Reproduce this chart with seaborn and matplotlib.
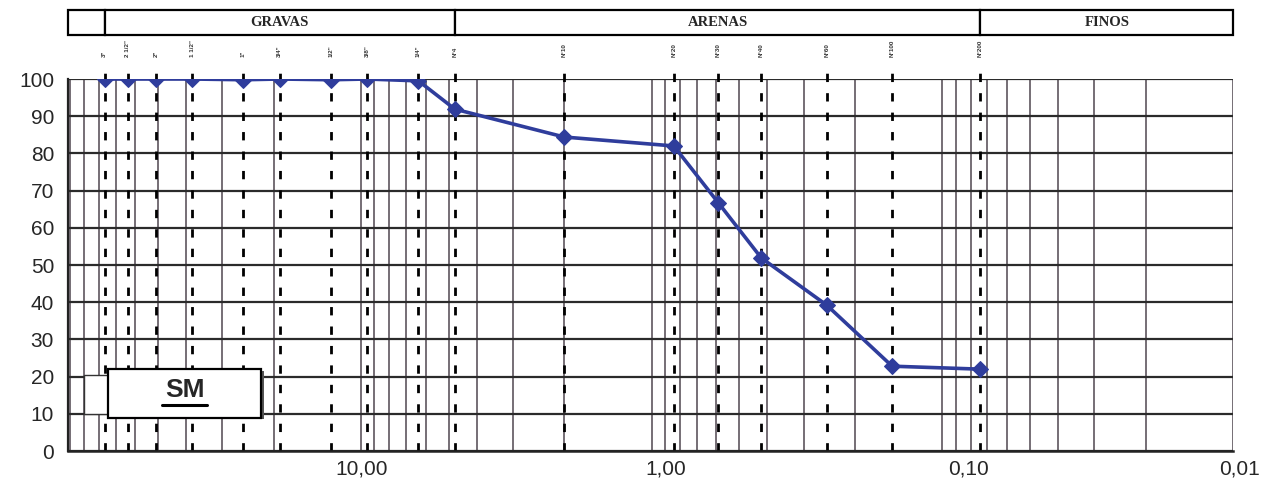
import matplotlib
matplotlib.use("Agg")
import matplotlib.pyplot as plt
import matplotlib.transforms as mtransforms
from matplotlib.patches import Rectangle
from matplotlib.ticker import LogLocator, FixedLocator, NullFormatter
import seaborn as sns
import pandas as pd
import numpy as np

# sieve openings (mm) and % passing
sieve_names = ['3"', '2 1/2"', '2"', '1 1/2"', '1"', '3/4"', '1/2"', '3/8"', '1/4"',
               'N°4', 'N°10', 'N°20', 'N°30', 'N°40', 'N°60', 'N°100', 'N°200']
sieve_mm = [76.2, 63.5, 50.8, 38.1, 25.4, 19.05, 12.7, 9.525, 6.35,
            4.76, 2.0, 0.84, 0.59, 0.42, 0.25, 0.149, 0.074]
passing = [100, 100, 100, 100, 99.8, 100, 99.8, 100, 99.5,
           91.9, 84.4, 82.0, 66.7, 51.9, 39.2, 22.8, 22.0]

# soil fraction bands in header row
zone_names = ['', 'GRAVAS', 'ARENAS', 'FINOS']
zone_edges = [102, 76.2, 4.76, 0.074, 0.01]

x_ticks = [10, 1, 0.1, 0.01]
x_ticklabels = ['10,00', '1,00', '0,10', '0,01']
soil_class = 'SM'

df = pd.DataFrame({'abertura': sieve_mm, 'pasa': passing})

sns.set_style('white')
plt.rcParams['font.family'] = ['Liberation Sans', 'DejaVu Sans']

fig = plt.figure(figsize=(12.66, 5.01), dpi=100)
ax = fig.add_axes([0.0537, 0.0998, 0.9203, 0.7425])

ax.set_xscale('log')
ax.set_xlim(zone_edges[0], zone_edges[-1])
ax.set_ylim(0, 100)

# grid: log minor lines + horizontal every 10
ax.xaxis.set_major_locator(FixedLocator(x_ticks))
ax.xaxis.set_minor_locator(LogLocator(base=10, subs=np.arange(1, 10), numticks=20))
ax.xaxis.set_minor_formatter(NullFormatter())
ax.set_xticklabels(x_ticklabels)
ax.grid(True, which='both', axis='x', color='#4f4650', linewidth=1.1)
ax.set_yticks(range(0, 101, 10))
ax.grid(True, which='major', axis='y', color='#2b2b2b', linewidth=1.6)
ax.tick_params(axis='x', which='both', length=0, labelsize=15, pad=6)
ax.tick_params(axis='y', length=7, width=1.2, color='#222222', labelsize=15, pad=3)

# the original labels sit a little to the right of their grid lines
for lab, dx in zip(ax.get_xticklabels(), [0, 14, 26, 6]):
    lab.set_transform(lab.get_transform() + mtransforms.ScaledTranslation(dx / 100, 0, fig.dpi_scale_trans))

for side in ['top', 'right']:
    ax.spines[side].set_visible(False)
ax.spines['left'].set_color('#222222')
ax.spines['left'].set_linewidth(1.6)
ax.spines['bottom'].set_color('#222222')
ax.spines['bottom'].set_linewidth(1.8)

# dashed sieve lines + small sieve labels
trans = mtransforms.blended_transform_factory(ax.transData, ax.transAxes)
for name, d in zip(sieve_names, sieve_mm):
    ax.plot([d, d], [0, 1.035], transform=trans, color='black', linestyle=(0, (3, 4)),
            linewidth=2.0, clip_on=False, zorder=2)
    ax.text(d, 1.06, name, transform=trans, rotation=90, fontsize=4.5,
            ha='center', va='bottom', fontweight='bold', color='#333333')

# gradation curve
sns.lineplot(data=df, x='abertura', y='pasa', ax=ax, color='#2f3d9c', linewidth=2.6,
             marker='D', markersize=8.5, markeredgecolor='#2f3d9c', sort=False, zorder=5)
ax.set_xlabel('')
ax.set_ylabel('')

# header row with soil fractions
for i, name in enumerate(zone_names):
    x0, x1 = zone_edges[i], zone_edges[i + 1]
    ax.add_patch(Rectangle((x0, 1.118), x1 - x0, 0.067, transform=trans,
                           facecolor='white', edgecolor='black', linewidth=1.6, clip_on=False))
    if name:
        ax.text(np.sqrt(x0 * x1), 1.151, name, transform=trans, ha='center', va='center',
                fontsize=10.5, fontweight='bold', family=['Liberation Serif'])

# classification box
ax.add_patch(Rectangle((0.0137, 0.10), 0.021, 0.105, transform=ax.transAxes,
                       facecolor='white', edgecolor='#333333', linewidth=1.0, zorder=6))
ax.add_patch(Rectangle((0.036, 0.086), 0.132, 0.13, transform=ax.transAxes,
                       facecolor='#555555', edgecolor='none', zorder=6))
ax.add_patch(Rectangle((0.034, 0.09), 0.132, 0.13, transform=ax.transAxes,
                       facecolor='white', edgecolor='black', linewidth=1.6, zorder=7))
ax.text(0.1, 0.165, soil_class, transform=ax.transAxes, ha='center', va='center',
        fontsize=19, fontweight='bold', zorder=8)
ax.plot([0.081, 0.119], [0.124, 0.124], transform=ax.transAxes, color='black',
        linewidth=2.2, zorder=8)

fig.savefig('out.png', dpi=100)
